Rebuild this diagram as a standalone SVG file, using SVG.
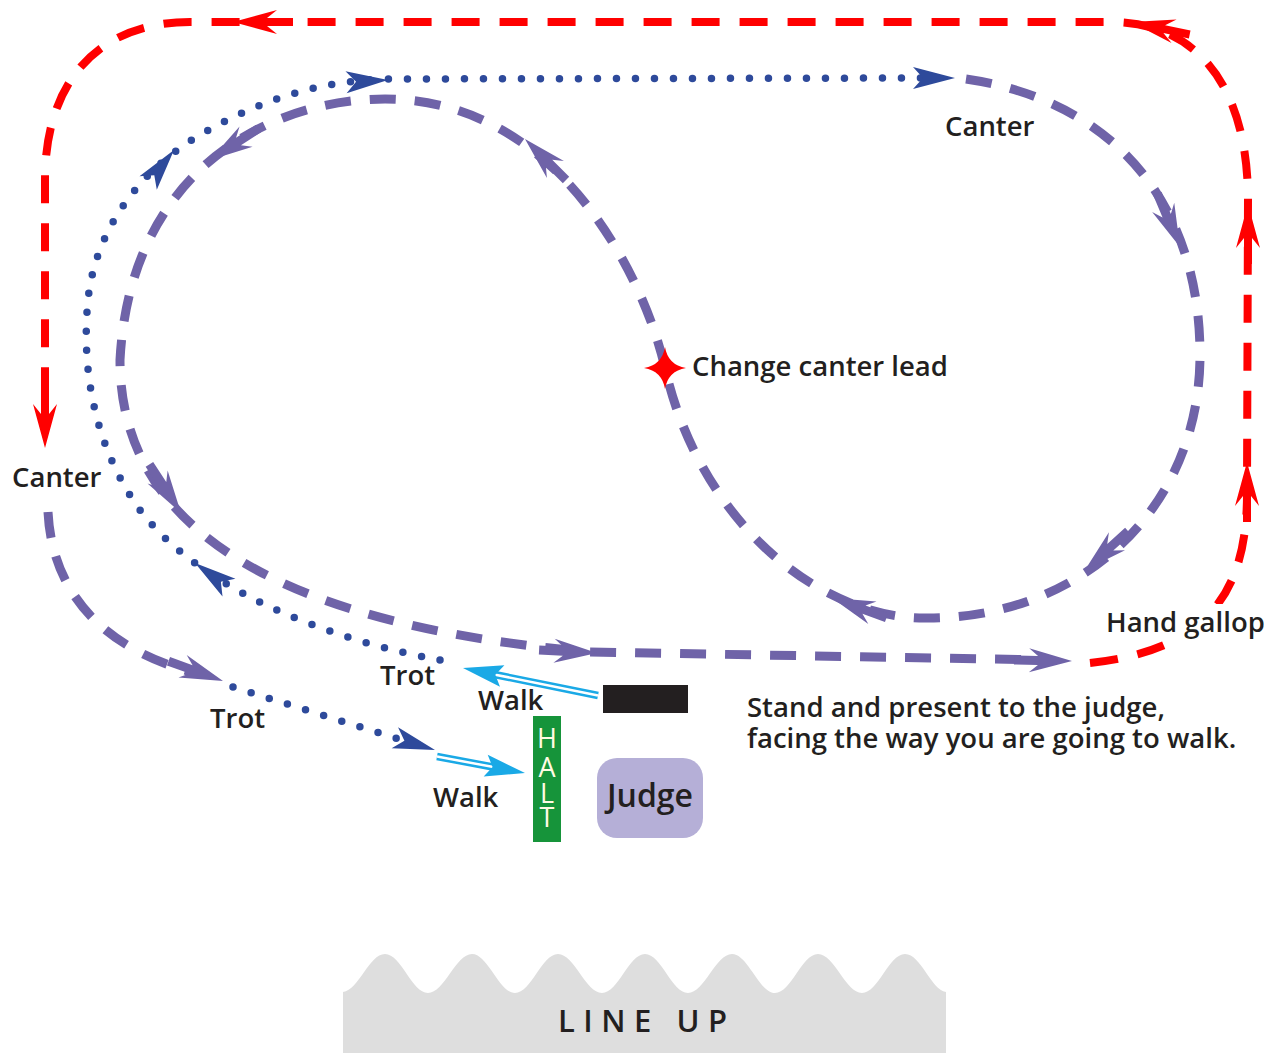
<svg xmlns="http://www.w3.org/2000/svg" width="1264" height="1053" viewBox="0 0 1264 1053">
<style>
.red{fill:none;stroke:#ff0000;stroke-width:8;stroke-dasharray:28 20}
.pur{fill:none;stroke:#6f63a8;stroke-width:9;stroke-dasharray:26 19}
.dot{fill:none;stroke:#2e4a9b;stroke-width:7.5;stroke-dasharray:0 19;stroke-linecap:round}
.cy{fill:none;stroke:#1aa9e6;stroke-width:7.5}
.cyw{fill:none;stroke:#ffffff;stroke-width:2.5}
.hr{fill:#ff0000}
.hp{fill:#6f63a8}
.hb{fill:#2e4a9b}
.hc{fill:#1aa9e6}
.lbl{font-family:"Open Sans","Liberation Sans",sans-serif;font-size:27.5px;font-weight:600;fill:#231f20}
.halt{font-family:"Liberation Sans Narrow","Open Sans",sans-serif;font-size:27px;fill:#fffbe3;text-anchor:middle}
</style>
<defs>
<path id="ahp" d="M0,0 L-43,-12 L-34,-4.5 L-58,-4.5 L-58,4.5 L-34,4.5 L-43,12 Z"/>
<path id="ahr" d="M0,0 L-44,-12 L-34,-4 L-60,-4 L-60,4 L-34,4 L-44,12 Z"/>
<path id="ahb" d="M0,0 L-42,-11 L-32,0 L-42,11 Z"/>
<path id="ahc" d="M0,0 L-40,-11 L-33,0 L-40,11 Z"/>
</defs>
<rect width="1264" height="1053" fill="#ffffff"/>
<g id="lineup">
<path fill="#dedede" d="M343,1053 L343,992 C359,990 369,954 385,954 C401,954 412,993 428,993 C444,993 456,954 472,954 C488,954 499,993 515,993 C531,993 542,954 558,954 C574,954 586,993 602,993 C618,993 629,954 645,954 C661,954 672,993 688,993 C704,993 716,954 732,954 C748,954 759,993 775,993 C791,993 802,954 818,954 C834,954 846,993 862,993 C878,993 889,954 905,954 C921,954 931,990 946,992 L946,1053 Z"/>
<text x="558" y="1032" style="font-family:'Open Sans','Liberation Sans',sans-serif;font-size:31px;font-weight:600;letter-spacing:8.5px;fill:#231f20">LINE UP</text>
</g>
<g id="connectors">
<!-- red hand gallop -->
<path class="red" d="M1090,663 C1210,650 1248,590 1247,490 L1248,200 C1248,90 1200,22 1110,22 L190,22 C100,22 45,80 45,180 L45,420"/>
<use href="#ahr" class="hr" transform="translate(1247,462) rotate(-90)"/>
<use href="#ahr" class="hr" transform="translate(1248,204) rotate(-90)"/>
<use href="#ahr" class="hr" transform="translate(1131,22) rotate(192)"/>
<use href="#ahr" class="hr" transform="translate(233,22) rotate(180)"/>
<use href="#ahr" class="hr" transform="translate(45,448) rotate(90)"/>
<!-- purple canter loop -->
<path class="pur" d="M966,79 C1110,100 1200,200 1200,355 C1200,510 1080,618 928,618 C820,620 700,522 665,368 C645,280 560,99 385,99 C270,99 130,170 120,360 C120,530 280,625 590,652 L1045,660"/>
<use href="#ahp" class="hp" transform="translate(1180,247) rotate(67)"/>
<use href="#ahp" class="hp" transform="translate(1085,570) rotate(138)"/>
<use href="#ahp" class="hp" transform="translate(832,598) rotate(200)"/>
<use href="#ahp" class="hp" transform="translate(525,139) rotate(225)"/>
<use href="#ahp" class="hp" transform="translate(210,160) rotate(147)"/>
<use href="#ahp" class="hp" transform="translate(181,513) rotate(57)"/>
<use href="#ahp" class="hp" transform="translate(597,653) rotate(3)"/>
<use href="#ahp" class="hp" transform="translate(1072,661) rotate(1)"/>
<!-- purple outer canter -->
<path class="pur" d="M48,512 C52,590 100,648 195,673"/>
<use href="#ahp" class="hp" transform="translate(223,681) rotate(20)"/>
<!-- blue trot dotted -->
<path class="dot" d="M440,660 C330,640 200,590 140,510 C100,455 80,380 88,300 C95,230 140,170 200,135 C260,100 320,80 390,79 L925,78"/>
<use href="#ahb" class="hb" transform="translate(174,150) rotate(-52)"/>
<use href="#ahb" class="hb" transform="translate(388,80) rotate(-3)"/>
<use href="#ahb" class="hb" transform="translate(955,78) rotate(0)"/>
<use href="#ahb" class="hb" transform="translate(195,563) rotate(216)"/>
<path class="dot" d="M233,687 L405,741"/>
<use href="#ahb" class="hb" transform="translate(435,750) rotate(17)"/>
<!-- cyan walk -->
<path class="cy" d="M598,695.5 L492,674"/>
<path class="cyw" d="M598,695.5 L494,674.4"/>
<use href="#ahc" class="hc" transform="translate(463,668) rotate(191.6)"/>
<path class="cy" d="M437,756.5 L495.5,767.5"/>
<path class="cyw" d="M437,756.5 L493.5,767.1"/>
<use href="#ahc" class="hc" transform="translate(525,773) rotate(10.6)"/>
</g>
<g id="start-bar">
<rect x="603" y="685" width="85" height="28" fill="#231f20"/>
</g>
<g id="halt">
<rect x="533" y="716" width="28" height="126" fill="#16943a"/>
<text class="halt" x="547" y="748">H<tspan x="547" y="777">A</tspan><tspan x="547" y="803">L</tspan><tspan x="547" y="827">T</tspan></text>
</g>
<g id="judge">
<rect x="597" y="758" width="106" height="80" rx="20" fill="#b5afd7"/>
<text x="650" y="807" text-anchor="middle" style="font-family:'Open Sans','Liberation Sans',sans-serif;font-size:32px;font-weight:600;fill:#231f20">Judge</text>
</g>
<g id="change-lead">
<path fill="#ff0000" d="M665,347 Q668,365 686,368 Q668,371 665,389 Q662,371 644,368 Q662,365 665,347 Z"/>
<text class="lbl" x="692" y="376">Change canter lead</text>
</g>
<g id="labels">
<text class="lbl" x="945" y="136">Canter</text>
<text class="lbl" x="12" y="487">Canter</text>
<rect x="1103" y="604" width="161" height="36" fill="#ffffff"/>
<text class="lbl" x="1106" y="632">Hand gallop</text>
<text class="lbl" x="380" y="685">Trot</text>
<text class="lbl" x="210" y="728">Trot</text>
<text class="lbl" x="478" y="710">Walk</text>
<text class="lbl" x="433" y="807">Walk</text>
<text class="lbl" x="747" y="717">Stand and present to the judge,</text>
<text class="lbl" x="747" y="748">facing the way you are going to walk.</text>
</g>
</svg>
